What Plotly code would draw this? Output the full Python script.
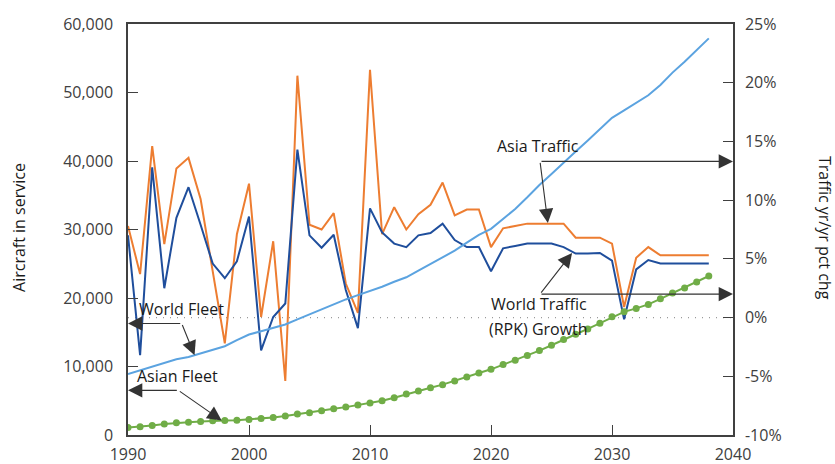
import plotly.graph_objects as go

years = list(range(1990, 2039))

asia_traffic_pct = [7.8, 3.7, 14.6, 6.25, 12.7, 13.6, 10.1, 4.0, -2.2, 7.1,
                    11.4, 0.05, 6.5, -5.4, 20.6, 7.9, 7.5, 8.9, 2.9, 0.4,
                    21.1, 7.1, 9.4, 7.5, 8.8, 9.6, 11.5, 8.7, 9.2, 9.2,
                    6.0, 7.6, 7.8, 8.0, 8.0, 8.0, 8.0, 6.8, 6.8, 6.8,
                    6.3, 0.9, 5.1, 6.0, 5.3, 5.3, 5.3, 5.3, 5.3]

world_traffic_pct = [7.0, -3.2, 12.8, 2.5, 8.5, 11.1, 7.9, 4.6, 3.35, 4.8,
                     8.6, -2.8, 0.05, 1.2, 14.3, 7.0, 5.95, 7.05, 2.35, -0.9,
                     9.3, 7.25, 6.3, 6.0, 7.0, 7.2, 8.0, 6.6, 6.0, 6.0,
                     3.95, 5.9, 6.1, 6.3, 6.3, 6.3, 6.0, 5.45, 5.45, 5.5,
                     4.85, -0.15, 4.1, 4.9, 4.6, 4.6, 4.6, 4.6, 4.6]

world_fleet = [8900, 9440, 10030, 10570, 11050, 11390, 11880, 12370, 12960, 13840,
               14670, 15150, 15640, 16130, 16870, 17600, 18330, 19110, 19790, 20420,
               21010, 21640, 22370, 23020, 23990, 24960, 25940, 26910, 28080, 29200,
               30100, 31500, 33000, 34700, 36500, 38100, 39800, 41400, 43000, 44700,
               46300, 47400, 48500, 49600, 51100, 52900, 54500, 56200, 57900]

asian_fleet = [1100, 1200, 1390, 1600, 1780, 1850, 1980, 2080, 2120, 2170,
               2270, 2420, 2560, 2760, 3050, 3250, 3540, 3830, 4070, 4370,
               4660, 5000, 5450, 5970, 6410, 6910, 7350, 7880, 8460, 9050,
               9590, 10280, 10900, 11590, 12320, 13100, 13940, 14710, 15490, 16330,
               17250, 17980, 18480, 19060, 19880, 20720, 21450, 22330, 23210]

x_ticks = [1990, 2000, 2010, 2020, 2030, 2040]
fleet_ticks = [0, 10000, 20000, 30000, 40000, 50000, 60000]
fleet_tick_text = ["0", "10,000", "20,000", "30,000", "40,000", "50,000", "60,000"]
pct_ticks = [-10, -5, 0, 5, 10, 15, 20, 25]
pct_tick_text = ["-10%", "-5%", "0%", "5%", "10%", "15%", "20%", "25%"]

FONT = "Open Sans"
AXIS_COL = "#404040"
TEXT_COL = "#1a1a1a"
ARROW_COL = "#333333"

fig = go.Figure()

fig.add_trace(go.Scatter(x=years, y=asia_traffic_pct, mode="lines", yaxis="y",
                         line=dict(color="#ED7D31", width=2), name="Asia Traffic"))
fig.add_trace(go.Scatter(x=years, y=world_traffic_pct, mode="lines", yaxis="y",
                         line=dict(color="#1F4E9C", width=2), name="World Traffic"))
fig.add_trace(go.Scatter(x=years, y=world_fleet, mode="lines", yaxis="y2",
                         line=dict(color="#5BA3E0", width=2), name="World Fleet"))
fig.add_trace(go.Scatter(x=years, y=asian_fleet, mode="lines+markers", yaxis="y2",
                         line=dict(color="#70AD47", width=2),
                         marker=dict(color="#70AD47", size=7), name="Asian Fleet"))

fig.add_shape(type="line", xref="paper", yref="y", x0=0, x1=1, y0=0, y1=0,
              line=dict(color="#9a9a9a", width=1.2, dash="1px,6px"), layer="below")

arrow_common = dict(showarrow=True, arrowhead=2, arrowsize=2.6, arrowwidth=1.1,
                    arrowcolor=ARROW_COL, text="", standoff=0, startstandoff=0)

# Asia Traffic arrows
fig.add_annotation(x=2040, y=13.3, xref="x", yref="y", ax=2024.05, ay=13.3,
                   axref="x", ayref="y", **arrow_common)
fig.add_annotation(x=2024.7, y=8.05, xref="x", yref="y", ax=2024.05, ay=13.3,
                   axref="x", ayref="y", **arrow_common)
# World Traffic arrows
fig.add_annotation(x=2040, y=2.0, xref="x", yref="y", ax=2024.05, ay=2.0,
                   axref="x", ayref="y", **arrow_common)
fig.add_annotation(x=2026.7, y=5.5, xref="x", yref="y", ax=2024.05, ay=2.0,
                   axref="x", ayref="y", **arrow_common)
# World Fleet arrows
fig.add_annotation(x=1990, y=16280, xref="x", yref="y2", ax=1994.44, ay=16280,
                   axref="x", ayref="y2", **arrow_common)
fig.add_annotation(x=1995.5, y=11640, xref="x", yref="y2", ax=1994.44, ay=16280,
                   axref="x", ayref="y2", **arrow_common)
# Asian Fleet arrows
fig.add_annotation(x=1990, y=6520, xref="x", yref="y2", ax=1994.16, ay=6520,
                   axref="x", ayref="y2", **arrow_common)
fig.add_annotation(x=1997.74, y=2120, xref="x", yref="y2", ax=1994.16, ay=6520,
                   axref="x", ayref="y2", **arrow_common)

label_font = dict(family=FONT, size=16, color=TEXT_COL)
for txt, xx, yy, yr in [("Asia Traffic", 2023.9, 14.58, "y"),
                        ("World Traffic", 2023.93, 1.16, "y"),
                        ("(RPK) Growth", 2023.9, -0.97, "y"),
                        ("World Fleet", 1994.38, 18370, "y2"),
                        ("Asian Fleet", 1994.05, 8610, "y2")]:
    fig.add_annotation(x=xx, y=yy, xref="x", yref=yr, text=txt, showarrow=False,
                       xanchor="center", yanchor="middle", font=label_font)

fig.add_annotation(x=-0.18, y=0.504, xref="paper", yref="paper", text="Aircraft in service",
                   textangle=-90, showarrow=False, xanchor="center", yanchor="middle",
                   font=dict(family=FONT, size=16, color=TEXT_COL))
fig.add_annotation(x=1.152, y=0.504, xref="paper", yref="paper", text="Traffic yr/yr pct chg",
                   textangle=90, showarrow=False, xanchor="center", yanchor="middle",
                   font=dict(family=FONT, size=16, color=TEXT_COL))

tick_font = dict(family=FONT, size=16, color=AXIS_COL)

fig.update_layout(
    width=835, height=464,
    margin=dict(l=128, r=102, t=24, b=29, pad=0, autoexpand=False),
    paper_bgcolor="white", plot_bgcolor="white",
    showlegend=False,
    xaxis=dict(range=[1990, 2040], tickvals=x_ticks, ticks="inside", ticklen=10,
               tickcolor=AXIS_COL, showline=True, linecolor=AXIS_COL, linewidth=1.5,
               mirror=True, showgrid=False, zeroline=False, tickfont=tick_font,
               ticklabelstandoff=4, automargin=False),
    yaxis=dict(range=[-10, 25], tickvals=pct_ticks, ticktext=pct_tick_text, side="right",
               ticks="inside", ticklen=10, tickcolor=AXIS_COL, showline=True,
               linecolor=AXIS_COL, linewidth=1.5, showgrid=False, zeroline=False,
               tickfont=tick_font, ticklabelstandoff=7, automargin=False),
    yaxis2=dict(range=[0, 60000], tickvals=fleet_ticks, ticktext=fleet_tick_text,
                overlaying="y", side="left", ticks="inside", ticklen=10,
                tickcolor=AXIS_COL, showline=True, linecolor=AXIS_COL, linewidth=1.5,
                showgrid=False, zeroline=False, tickfont=tick_font, ticklabelstandoff=10,
                automargin=False),
)

fig.write_html("out.html")
